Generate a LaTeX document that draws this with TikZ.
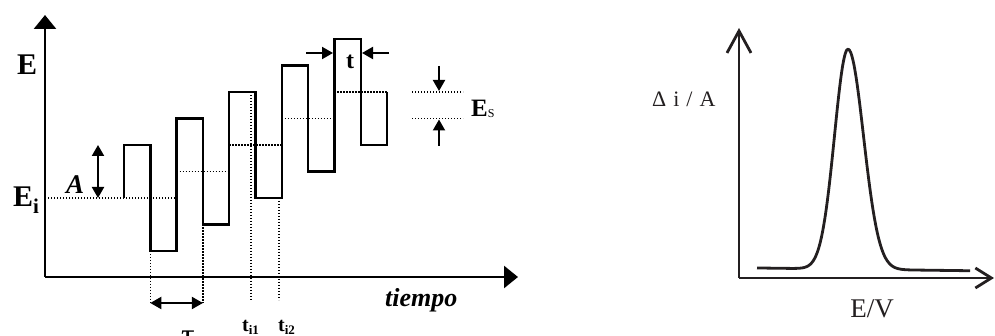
\documentclass[tikz,border=0pt]{standalone}
\usepackage{fontspec}
\setmainfont{Liberation Serif}
\usetikzlibrary{arrows.meta}
\definecolor{ink}{HTML}{231F20}

\begin{document}
\begin{tikzpicture}[
    x=1pt, y=-1pt,
    axis/.style={line width=2.6pt, -{Triangle[length=14pt, width=22pt]}},
    wave/.style={line width=2.4pt},
    level/.style={line width=1.4pt, dash pattern=on 1.3pt off 1.7pt},
    dimarr/.style={line width=2pt, {Triangle[length=11pt, width=12pt]}-{Triangle[length=11pt, width=12pt]}},
    ptr/.style={line width=2pt, -{Triangle[length=11pt, width=12pt]}},
    biglbl/.style={inner sep=0pt, font=\fontsize{30}{30}\selectfont\bfseries},
    midlbl/.style={inner sep=0pt, font=\fontsize{24}{24}\selectfont\bfseries},
    timelbl/.style={inner sep=0pt, font=\fontsize{20}{20}\selectfont\bfseries},
    plotax/.style={line width=2.8pt, draw=ink},
    plotlbl/.style={inner sep=0pt, text=ink},
]
\useasboundingbox (0,0) rectangle (995,336);

% --- potential vs time (square wave on staircase) ---
\coordinate (origin) at (45,277);
\coordinate (ytip) at (45,15);
\coordinate (xtip) at (518,277);
\draw [axis] (origin) -- (ytip);
\draw [axis] (origin) -- (xtip);

% staircase mid levels
\draw [level] (origin |- 0,198) -- (176.6,198);
\draw [level] (176.6,171.5) -- (229.2,171.5);
\draw [level] (229.2,145) -- (281.8,145);
\draw [level] (281.8,118.5) -- (334.4,118.5);
\draw [level] (334.4,92) -- (387,92);

% sampling / period guides
\draw [level] (150.3,251) -- (150.3,303) coordinate (tauL);
\draw [level] (202.9,224.5) -- (202.9,303) coordinate (tauR);
\draw [level] (251,92) -- (251,300);
\draw [level] (279,198) -- (279,300);

\draw [wave] (124,198) -- (124,145) -- (150.3,145) -- (150.3,251) -- (176.6,251)
  -- (176.6,118.5) -- (202.9,118.5) -- (202.9,224.5) -- (229.2,224.5)
  -- (229.2,92) -- (255.5,92) -- (255.5,198) -- (281.8,198)
  -- (281.8,65.5) -- (308.1,65.5) -- (308.1,171.5) -- (334.4,171.5)
  -- (334.4,39) -- (360.7,39) -- (360.7,145) -- (387,145) -- (387,92);

% amplitude
\coordinate (ampT) at (98,145);
\coordinate (ampB) at (98,198);
\draw [dimarr] (ampT) -- (ampB);
\draw [dimarr] (tauL) -- (tauR);

% pulse width
\coordinate (pwL) at (306,53);
\coordinate (pwLend) at (333,53);
\coordinate (pwR) at (389,53);
\coordinate (pwRend) at (362,53);
\draw [ptr] (pwL) -- (pwLend);
\draw [ptr] (pwR) -- (pwRend);

% step height
\draw [level] (412,92) -- (463,92);
\draw [level] (412,118.5) -- (463,118.5);
\coordinate (esT) at (439,66);
\coordinate (esTend) at (439,91);
\coordinate (esB) at (439,146);
\coordinate (esBend) at (439,119.5);
\draw [ptr] (esT) -- (esTend);
\draw [ptr] (esB) -- (esBend);

\node [biglbl, anchor=base west] (lblE) at (17,75) {E};
\node [biglbl, anchor=base west] (lblEi) at (13,207) {E\raisebox{-7pt}{\fontsize{21}{21}\selectfont i}};
\node [inner sep=0pt, anchor=base west, font=\fontsize{27}{27}\selectfont\bfseries\itshape] (lblA) at (66,194) {A};
\node [midlbl, anchor=base] (lblt) at (350,69) {t};
\node [inner sep=0pt, anchor=base west, font=\fontsize{25}{25}\selectfont\bfseries] (lblEs) at (471,117) {E\raisebox{-1pt}{\fontsize{12}{12}\selectfont\mdseries S}};
\node [inner sep=0pt, anchor=base, font=\fontsize{34}{34}\selectfont] (lbltau) at (188,346) {τ};
\node [timelbl, anchor=base west] (lblti1) at (242,331) {t\raisebox{-3pt}{\fontsize{13}{13}\selectfont i1}};
\node [timelbl, anchor=base west] (lblti2) at (278,331) {t\raisebox{-3pt}{\fontsize{13}{13}\selectfont i2}};
\node [inner sep=0pt, anchor=base west, font=\fontsize{26}{26}\selectfont\bfseries\itshape] (lbltime) at (385,307) {tiempo};

% --- differential current vs potential ---
\coordinate (O2) at (739,278);
\coordinate (y2tip) at (739,28);
\coordinate (x2tip) at (994,278);
\draw [plotax, -{Straight Barb[length=22pt, width=24pt]}] (O2) -- (y2tip);
\draw [plotax, -{Straight Barb[length=16pt, width=20pt]}] (O2) -- (x2tip);
\draw [plotax, line join=round] plot [domain=757:970, samples=160, smooth]
  (\x, {268 + 0.013*(\x-757) - 220*exp(max(-9, -((\x-848)^2)/(2*((\x<848) ? 182 : 240))))});

\node [plotlbl, anchor=base west, font=\fontsize{22}{22}\selectfont] (lbldi) at (652,107) {Δ\hspace{7pt}i\hspace{7pt}/\hspace{7pt}A};
\node [plotlbl, anchor=base, font=\fontsize{27}{27}\selectfont] (lblEV) at (872,317) {E/V};

\end{tikzpicture}
\end{document}
